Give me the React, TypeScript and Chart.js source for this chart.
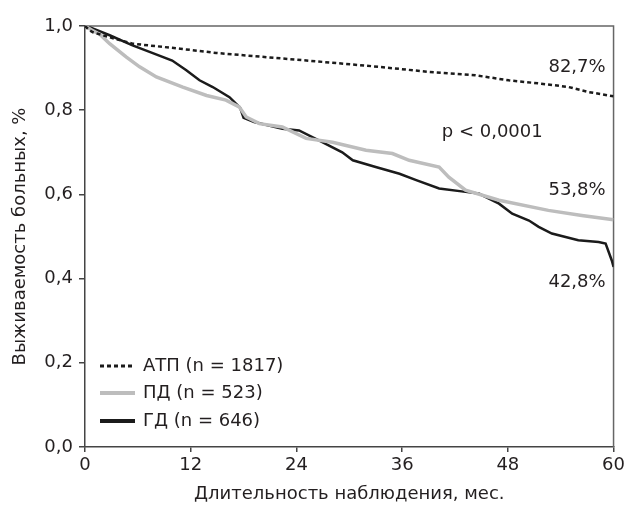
import React, { useEffect, useRef } from "react";
import { Chart, registerables } from "chart.js";

Chart.register(...registerables);

// ---- Data ----
const xTicks = [0, 12, 24, 36, 48, 60];
const yTicks = [0, 0.2, 0.4, 0.6, 0.8, 1.0];

const seriesLabels = ["АТП (n = 1817)", "ПД (n = 523)", "ГД (n = 646)"];
const endLabels = ["82,7%", "53,8%", "42,8%"];
const pValueText = "p < 0,0001";
const xTitle = "Длительность наблюдения, мес.";
const yTitle = "Выживаемость больных, %";

const atpMonths = [0, 0.5, 0.9, 2.5, 5.4, 10.8, 14.9, 20.6, 28.5, 33.4, 39, 44.3, 48.1, 51.8, 54.9, 57.2, 60];
const atpValues = [1.0, 0.99, 0.985, 0.975, 0.958, 0.946, 0.936, 0.926, 0.912, 0.903, 0.891, 0.883, 0.871, 0.863, 0.855, 0.843, 0.833];

const pdMonths = [0, 0.8, 1.7, 2.8, 4.7, 6.2, 8.1, 11.1, 13.8, 16, 17.5, 18.3, 19.8, 22.4, 25.1, 28.1, 31.9, 34.9, 36.8, 40.2, 41.3, 43.2, 47, 52.6, 56.4, 60];
const pdValues = [1.0, 0.99, 0.98, 0.958, 0.926, 0.903, 0.879, 0.855, 0.835, 0.824, 0.808, 0.784, 0.768, 0.76, 0.733, 0.724, 0.705, 0.697, 0.681, 0.665, 0.641, 0.61, 0.586, 0.562, 0.55, 0.54];

const gdMonths = [0, 0.8, 2.8, 5.4, 7.4, 9.9, 11.5, 13, 14.5, 16.4, 17.6, 18.0, 19.2, 22.4, 24.3, 26.6, 29.2, 30.4, 33, 35.7, 37.6, 40.2, 43.2, 44.7, 47, 48.5, 50.4, 51.5, 53, 56, 58.3, 59.1, 59.8, 60];
const gdValues = [1.0, 0.995, 0.978, 0.954, 0.938, 0.918, 0.895, 0.871, 0.855, 0.831, 0.806, 0.782, 0.772, 0.756, 0.752, 0.728, 0.7, 0.681, 0.665, 0.649, 0.634, 0.614, 0.606, 0.602, 0.578, 0.554, 0.538, 0.523, 0.507, 0.491, 0.487, 0.483, 0.443, 0.428];

// ---- Styles ----
const FONT = "'DejaVu Sans', sans-serif";
const TEXT_COLOR = "#231f20";
const AXIS_COLOR = "#444";
const BLACK = "#1b1b1b";
const GREY = "#bdbdbd";
const DASH = [4, 3];

const toPts = (xs: number[], ys: number[]) => xs.map((x, i) => ({ x, y: ys[i] }));

const decorPlugin = {
  id: "decor",
  beforeDatasetsDraw(chart: any) {
    const { ctx, chartArea } = chart;
    ctx.save();
    ctx.strokeStyle = "#666";
    ctx.lineWidth = 1.5;
    ctx.beginPath();
    ctx.moveTo(chartArea.left, chartArea.top);
    ctx.lineTo(chartArea.right, chartArea.top);
    ctx.lineTo(chartArea.right, chartArea.bottom);
    ctx.stroke();
    ctx.restore();
  },
  afterDraw(chart: any) {
    const { ctx } = chart;
    const xs = chart.scales.x;
    const ys = chart.scales.y;
    ctx.save();
    ctx.font = `18px ${FONT}`;
    ctx.fillStyle = TEXT_COLOR;
    ctx.textBaseline = "middle";
    // end labels
    ctx.textAlign = "right";
    const endAnchors = [0.903, 0.61, 0.392];
    endLabels.forEach((t, i) => {
      ctx.fillText(t, xs.getPixelForValue(59.1), ys.getPixelForValue(endAnchors[i]));
    });
    ctx.textAlign = "left";
    ctx.fillText(pValueText, xs.getPixelForValue(40.5), ys.getPixelForValue(0.748));

    // legend
    const lx0 = xs.left + 15;
    const lx1 = xs.left + 50;
    const tx = xs.left + 58;
    const rowY = [366, 393, 421];
    const styles = [
      { color: BLACK, width: 3, dash: DASH },
      { color: GREY, width: 4, dash: [] as number[] },
      { color: BLACK, width: 4, dash: [] as number[] },
    ];
    seriesLabels.forEach((t, i) => {
      const s = styles[i];
      ctx.beginPath();
      ctx.setLineDash(s.dash);
      ctx.strokeStyle = s.color;
      ctx.lineWidth = s.width;
      ctx.moveTo(lx0, rowY[i]);
      ctx.lineTo(lx1, rowY[i]);
      ctx.stroke();
      ctx.setLineDash([]);
      ctx.fillText(t, tx, rowY[i]);
    });
    ctx.restore();
  },
};

export default function App() {
  const ref = useRef<HTMLCanvasElement | null>(null);
  useEffect(() => {
    if (!ref.current) return;
    const chart = new Chart(ref.current, {
      type: "line",
      data: {
        datasets: [
          {
            label: seriesLabels[0],
            data: toPts(atpMonths, atpValues),
            borderColor: BLACK,
            borderWidth: 2.5,
            borderDash: DASH,
            pointRadius: 0,
            tension: 0,
          },
          {
            label: seriesLabels[1],
            data: toPts(pdMonths, pdValues),
            borderColor: GREY,
            borderWidth: 3.5,
            pointRadius: 0,
            tension: 0,
          },
          {
            label: seriesLabels[2],
            data: toPts(gdMonths, gdValues),
            borderColor: BLACK,
            borderWidth: 2.5,
            pointRadius: 0,
            tension: 0,
          },
        ],
      },
      options: {
        animation: false,
        responsive: false,
        devicePixelRatio: 1,
        layout: { padding: { top: 26, right: 13, bottom: 0, left: 0 } },
        plugins: { legend: { display: false }, tooltip: { enabled: false } },
        scales: {
          x: {
            type: "linear",
            min: 0,
            max: 60,
            afterBuildTicks: (s: any) => {
              s.ticks = xTicks.map((v) => ({ value: v }));
            },
            afterFit: (s: any) => {
              s.height = 60;
            },
            ticks: {
              color: TEXT_COLOR,
              font: { family: FONT, size: 18 },
              padding: 3,
              maxRotation: 0,
              callback: (v: any) => String(v),
            },
            grid: { drawOnChartArea: false, drawTicks: true, tickLength: 5, color: AXIS_COLOR, lineWidth: 1.5 },
            border: { color: AXIS_COLOR, width: 1.5 },
            title: {
              display: true,
              text: xTitle,
              color: TEXT_COLOR,
              font: { family: FONT, size: 18 },
              padding: { top: 0, bottom: 2 },
            },
          },
          y: {
            type: "linear",
            min: 0,
            max: 1,
            afterBuildTicks: (s: any) => {
              s.ticks = yTicks.map((v) => ({ value: v }));
            },
            afterFit: (s: any) => {
              s.width = 85;
            },
            ticks: {
              color: TEXT_COLOR,
              font: { family: FONT, size: 18 },
              padding: 6,
              callback: (v: any) => Number(v).toFixed(1).replace(".", ","),
            },
            grid: { drawOnChartArea: false, drawTicks: true, tickLength: 6, color: AXIS_COLOR, lineWidth: 1.5 },
            border: { color: AXIS_COLOR, width: 1.5 },
            title: {
              display: true,
              text: yTitle,
              color: TEXT_COLOR,
              font: { family: FONT, size: 18 },
              padding: { top: 10, bottom: 0 },
            },
          },
        },
      },
      plugins: [decorPlugin],
    });
    return () => chart.destroy();
  }, []);
  return (
    <div style={{ position: "fixed", left: 0, top: 0, width: 628, height: 507, background: "#fff" }}>
      <canvas ref={ref} width={628} height={507} style={{ width: 628, height: 507, display: "block" }} />
    </div>
  );
}
